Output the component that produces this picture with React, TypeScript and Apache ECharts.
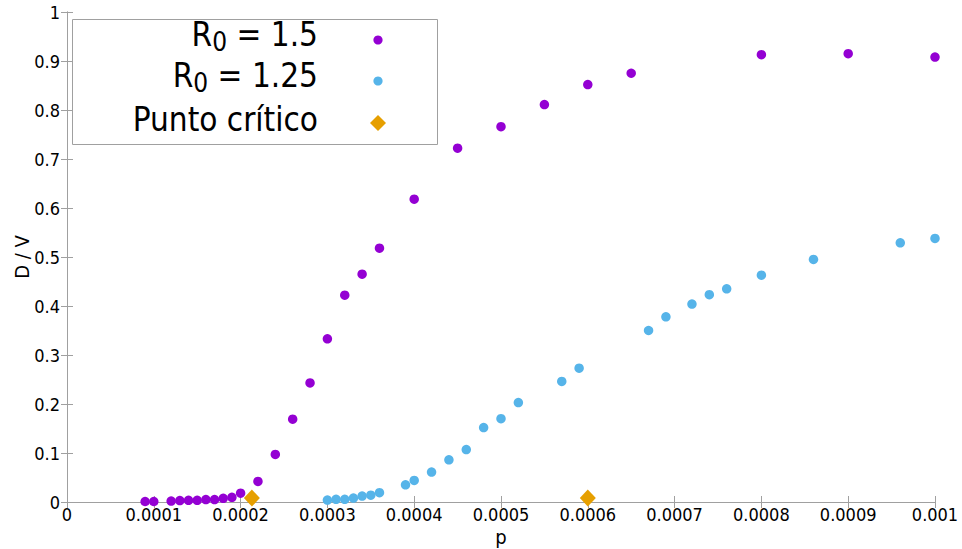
import React, { useEffect, useRef } from "react";
import * as echarts from "echarts";

const purpleP = [0.00009, 0.0001, 0.00012, 0.00013, 0.00014, 0.00015, 0.00016, 0.00017, 0.00018, 0.00019, 0.0002, 0.00022, 0.00024, 0.00026, 0.00028, 0.0003, 0.00032, 0.00034, 0.00036, 0.0004, 0.00045, 0.0005, 0.00055, 0.0006, 0.00065, 0.0008, 0.0009, 0.001];
const purpleV = [0.001, 0.001, 0.002, 0.003, 0.0035, 0.0035, 0.005, 0.005, 0.0075, 0.0095, 0.018, 0.042, 0.097, 0.169, 0.243, 0.333, 0.422, 0.465, 0.518, 0.618, 0.722, 0.766, 0.811, 0.852, 0.875, 0.913, 0.915, 0.908];

const blueP = [0.0003, 0.00031, 0.00032, 0.00033, 0.00034, 0.00035, 0.00036, 0.00039, 0.0004, 0.00042, 0.00044, 0.00046, 0.00048, 0.0005, 0.00052, 0.00057, 0.00059, 0.00067, 0.00069, 0.00072, 0.00074, 0.00076, 0.0008, 0.00086, 0.00096, 0.001];
const blueV = [0.004, 0.0055, 0.0055, 0.008, 0.012, 0.014, 0.019, 0.035, 0.044, 0.061, 0.086, 0.107, 0.152, 0.17, 0.203, 0.246, 0.273, 0.35, 0.378, 0.404, 0.423, 0.435, 0.463, 0.495, 0.529, 0.538];

const critP = [0.000213, 0.0006];
const critV = [0.008, 0.008];

const legendLabels = ["R{s|0} = 1.5", "R{s|0} = 1.25", "Punto crítico"];
const seriesNames = ["R0 = 1.5", "R0 = 1.25", "Punto crítico"];

const PURPLE = "#9400D3";
const BLUE = "#56B4E9";
const ORANGE = "#E69F00";
const AXIS = "#a0a0a0";
const FONT = "'DejaVu Sans Condensed', 'DejaVu Sans', sans-serif";

const zip = (a: number[], b: number[]) => a.map((x, i) => [x, b[i]]);

export default function App() {
  const ref = useRef<HTMLDivElement>(null);
  useEffect(() => {
    if (!ref.current) return;
    const chart = echarts.init(ref.current, null, { renderer: "svg" });
    const xFmt = (v: number) => (v === 0 ? "0" : String(parseFloat(v.toFixed(4))));
    const yFmt = (v: number) => String(parseFloat(v.toFixed(1)));
    const lineStyle = { color: AXIS, width: 1 };
    const tick = { show: true, inside: true, length: 6, lineStyle };
    const legendRowsY = [34, 75, 119];
    const legendTextX = 318;
    const markerX = 378;
    const graphic: any[] = [
      {
        type: "rect",
        shape: { x: 72.5, y: 19.5, width: 365, height: 125 },
        style: { fill: "#fff", stroke: AXIS, lineWidth: 1 },
        z: 10,
      },
    ];
    legendLabels.forEach((t, i) => {
      graphic.push({
        type: "text",
        x: legendTextX,
        y: legendRowsY[i],
        z: 11,
        style: {
          text: t,
          align: "right",
          verticalAlign: "middle",
          fill: "#000",
          fontFamily: FONT,
          fontSize: 33,
          rich: {
            s: { fontFamily: FONT, fontSize: 26, padding: [16, 0, 0, 0], fill: "#000" },
          },
        },
      });
    });
    graphic.push({ type: "circle", shape: { cx: markerX, cy: 40, r: 4.6 }, style: { fill: PURPLE }, z: 11 });
    graphic.push({ type: "circle", shape: { cx: markerX, cy: 81, r: 4.6 }, style: { fill: BLUE }, z: 11 });
    graphic.push({
      type: "polygon",
      shape: { points: [[markerX, 115], [markerX + 8, 123], [markerX, 131], [markerX - 8, 123]] },
      style: { fill: ORANGE },
      z: 11,
    });

    chart.setOption({
      animation: false,
      backgroundColor: "#fff",
      textStyle: { fontFamily: FONT },
      grid: { left: 67, right: 27, top: 12, bottom: 47, show: false, containLabel: false, outerBoundsMode: "none" },
      xAxis: [
        {
          type: "value",
          min: 0,
          max: 0.001,
          interval: 0.0001,
          position: "bottom",
          name: "p",
          nameLocation: "middle",
          nameGap: 25,
          nameMoveOverlap: false,
          nameTextStyle: { fontSize: 20, color: "#000", fontFamily: FONT },
          axisLine: { show: true, lineStyle },
          axisTick: tick,
          splitLine: { show: false },
          axisLabel: { formatter: xFmt, fontSize: 18, color: "#000", margin: 3, fontFamily: FONT, showMaxLabel: true, showMinLabel: true },
        },
        {
          type: "value",
          min: 0,
          max: 0.001,
          interval: 0.0001,
          position: "top",
          axisLine: { show: true, lineStyle },
          axisTick: tick,
          splitLine: { show: false },
          axisLabel: { show: false },
        },
      ],
      yAxis: [
        {
          type: "value",
          min: 0,
          max: 1,
          interval: 0.1,
          position: "left",
          name: "D / V",
          nameLocation: "middle",
          nameGap: 35,
          nameMoveOverlap: false,
          nameTextStyle: { fontSize: 20, color: "#000", fontFamily: FONT },
          axisLine: { show: true, lineStyle },
          axisTick: tick,
          splitLine: { show: false },
          axisLabel: { formatter: yFmt, fontSize: 18, color: "#000", margin: 7, fontFamily: FONT },
        },
        {
          type: "value",
          min: 0,
          max: 1,
          interval: 0.1,
          position: "right",
          axisLine: { show: true, lineStyle },
          axisTick: tick,
          splitLine: { show: false },
          axisLabel: { show: false },
        },
      ],
      series: [
        {
          name: seriesNames[0],
          type: "scatter",
          data: zip(purpleP, purpleV),
          symbol: "circle",
          symbolSize: 9.5,
          itemStyle: { color: PURPLE, opacity: 1 },
          clip: false,
        },
        {
          name: seriesNames[1],
          type: "scatter",
          data: zip(blueP, blueV),
          symbol: "circle",
          symbolSize: 9.5,
          itemStyle: { color: BLUE, opacity: 1 },
          clip: false,
        },
        {
          name: seriesNames[2],
          type: "scatter",
          data: zip(critP, critV),
          symbol: "diamond",
          symbolSize: [16, 17],
          itemStyle: { color: ORANGE, opacity: 1 },
          clip: false,
          z: 3,
        },
      ],
      graphic,
    });
    return () => chart.dispose();
  }, []);
  return <div ref={ref} style={{ width: 962, height: 549, position: "absolute", left: 0, top: 0 }} />;
}
